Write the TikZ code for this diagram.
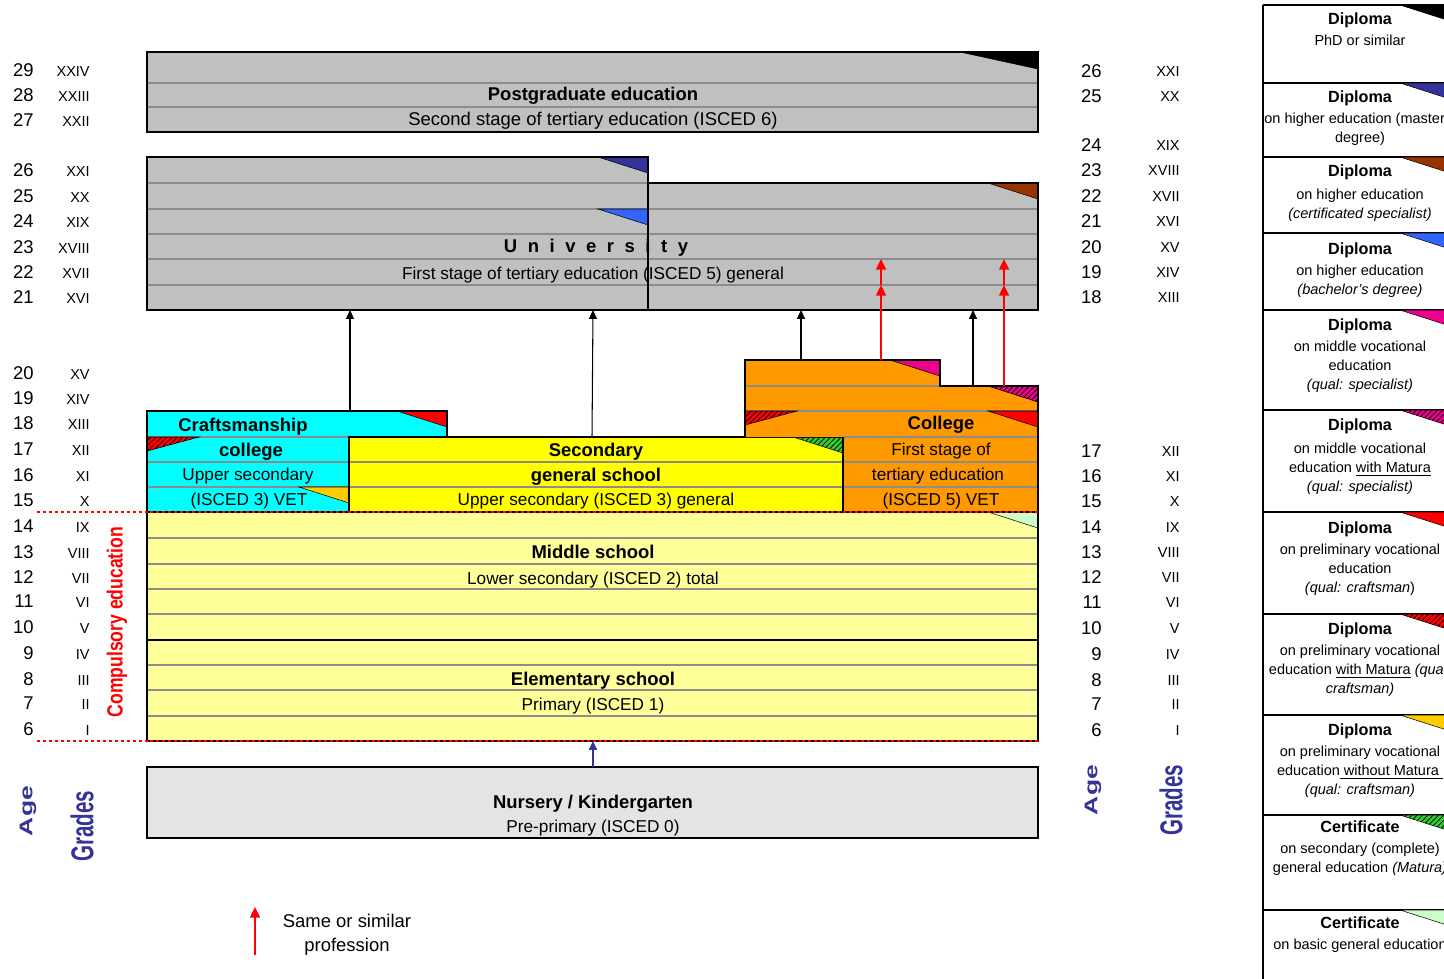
\documentclass[tikz,border=0pt]{standalone}
\usepackage{fontspec}
\setmainfont{Liberation Sans}
\usepackage{graphicx}
\usetikzlibrary{arrows.meta,patterns}

\definecolor{tertgray}{HTML}{C0C0C0}
\definecolor{craftcyan}{HTML}{00FFFF}
\definecolor{secyellow}{HTML}{FFFF00}
\definecolor{collorange}{HTML}{FF9900}
\definecolor{basicyellow}{HTML}{FFFF99}
\definecolor{nurserygray}{HTML}{E4E4E4}
\definecolor{agenavy}{HTML}{333399}
\definecolor{specbrown}{HTML}{993300}
\definecolor{bachblue}{HTML}{3366FF}
\definecolor{craftgold}{HTML}{FFCC00}
\definecolor{maturagreen}{HTML}{33CC33}
\definecolor{basicgreen}{HTML}{CCFFCC}

\tikzset{
  stage/.style={draw=black, line width=1.6pt},
  rowline/.style={draw=black!45, line width=0.7pt},
  hatch/.style={fill=#1, postaction={pattern=north east lines}},
  compline/.style={draw=red, line width=1.6pt, dash pattern=on 1.7pt off 1.7pt},
  txt/.style={font=\fontsize{9.8}{12}\selectfont, inner sep=0pt, text height=7pt, text depth=0pt},
  ttl/.style={font=\fontsize{10.5}{12}\selectfont\bfseries, inner sep=0pt, text height=7.5pt, text depth=0pt},
  agenum/.style={font=\fontsize{10.5}{12}\selectfont, inner sep=0pt, anchor=east, text height=7.5pt, text depth=0pt},
  gradenum/.style={font=\fontsize{8.25}{10}\selectfont, inner sep=0pt, anchor=east, text height=5.9pt, text depth=0pt},
  axislbl/.style={text=agenavy, inner sep=0pt, rotate=90},
  legtxt/.style={font=\fontsize{8.25}{10.8}\selectfont, align=center, anchor=north, inner sep=0pt},
  uparrow/.style={-{Triangle[width=4.5pt,length=5pt]}, line width=0.6pt},
  redarrow/.style={draw=red, -{Triangle[width=5.5pt,length=6pt]}, line width=1.2pt},
}
\newcommand{\dipR}[3]{\path[draw=black, line width=0.3pt, #3] (#1-50,#2) -- (#1,#2) -- (#1,#2+16) -- cycle;}
\newcommand{\dipL}[3]{\path[draw=black, line width=0.3pt, #3] (#1,#2) -- (#1+52,#2) -- (#1,#2+14) -- cycle;}
\newcommand{\legtitle}[1]{{\fontsize{9.2}{11}\selectfont\bfseries #1}}

\begin{document}
\begin{tikzpicture}[x=0.02cm, y=-0.02cm]
\useasboundingbox (0,0) rectangle (1444,978);

% postgraduate
\fill[tertgray] (147,52) rectangle (1038,132);
\foreach \r in {83,107} \draw[rowline] (147,\r) -- (1038,\r);
\path[draw=black, line width=0.3pt, fill=black] (960,52) -- (1038,52) -- (1038,69) -- cycle;
\draw[stage] (147,52) rectangle (1038,132);

% university
\fill[tertgray] (147,157) -- (648,157) -- (648,183) -- (1038,183) -- (1038,310) -- (147,310) -- cycle;
\draw[rowline] (147,183) -- (648,183);
\foreach \r in {209,234,259,285} \draw[rowline] (147,\r) -- (1038,\r);
\dipR{648}{157}{fill=agenavy}
\dipR{648}{209}{fill=bachblue}
\dipR{1038}{183}{fill=specbrown}
\draw[stage] (147,157) -- (648,157) -- (648,183) -- (1038,183) -- (1038,310) -- (147,310) -- cycle;
\draw[stage] (648,183) -- (648,310);

% craftsmanship college
\fill[craftcyan] (147,411) -- (447,411) -- (447,437) -- (349,437) -- (349,512) -- (147,512) -- cycle;
\foreach \r in {437,462,487} \draw[rowline] (147,\r) -- (349,\r);
\dipR{447}{411}{fill=red}
\dipL{147}{437}{hatch=red}
\dipR{349}{487}{fill=craftgold}
\draw[stage] (147,512) -- (147,411) -- (447,411) -- (447,437);

% secondary general school
\fill[secyellow] (349,437) rectangle (843,512);
\foreach \r in {462,487} \draw[rowline] (349,\r) -- (843,\r);
\dipR{843}{437}{hatch=maturagreen}
\draw[stage] (349,437) rectangle (843,512);

% college
\fill[collorange] (745,360) -- (940,360) -- (940,386) -- (1038,386) -- (1038,512) -- (843,512) -- (843,437) -- (745,437) -- cycle;
\draw[rowline] (745,386) -- (940,386);
\draw[rowline] (745,411) -- (1038,411);
\foreach \r in {437,462,487} \draw[rowline] (843,\r) -- (1038,\r);
\dipR{940}{360}{fill=magenta}
\dipR{1038}{386}{hatch=magenta}
\dipL{745}{411}{hatch=red}
\dipR{1038}{411}{fill=red}
\draw[stage] (745,437) -- (745,360) -- (940,360) -- (940,386) -- (1038,386) -- (1038,512);
\draw[stage] (843,437) -- (843,512);

% middle and elementary school
\fill[basicyellow] (147,512) rectangle (1038,741);
\foreach \r in {538,564,589,614,665,690,716} \draw[rowline] (147,\r) -- (1038,\r);
\dipR{1038}{512}{fill=basicgreen}
\draw[stage] (147,512) rectangle (1038,640);
\draw[stage] (147,640) rectangle (1038,741);

% compulsory education
\draw[compline] (37,512) -- (1038,512);
\draw[compline] (37,741) -- (1038,741);

% nursery
\fill[nurserygray] (147,767) rectangle (1038,838);
\draw[stage] (147,767) rectangle (1038,838);

% texts in the stages
\node[ttl] (pgT) at (593,94) {Postgraduate education};
\node[txt, font=\fontsize{10.5}{12}\selectfont] (pgS) at (593,119) {Second stage of tertiary education (ISCED 6)};
\node[ttl] (uniT) at (596,246) {\spaceskip=6pt U n i v e r s i t y};
\node[txt] (uniS) at (593,273) {First stage of tertiary education (ISCED 5) general};
\node[ttl] (crT1) at (243,425) {Craftsmanship};
\node[ttl] (crT2) at (251,450) {college};
\node[txt] (crS1) at (248,474) {Upper secondary};
\node[txt] (crS2) at (249,499) {(ISCED 3) VET};
\node[ttl] (secT1) at (596,450) {Secondary};
\node[ttl] (secT2) at (596,475) {general school};
\node[txt] (secS) at (596,499) {Upper secondary (ISCED 3) general};
\node[ttl] (colT) at (941,423) {College};
\node[txt] (colS1) at (941,449) {First stage of};
\node[txt] (colS2) at (938,474) {tertiary education};
\node[txt] (colS3) at (941,499) {(ISCED 5) VET};
\node[ttl] (midT) at (593,552) {Middle school};
\node[txt] (midS) at (593,578) {Lower secondary (ISCED 2) total};
\node[ttl] (elT) at (593,679) {Elementary school};
\node[txt] (elS) at (593,704) {Primary (ISCED 1)};
\node[ttl] (nurT) at (593,802) {Nursery / Kindergarten};
\node[txt] (nurS) at (593,826) {Pre-primary (ISCED 0)};

\node[rotate=90, text=red, inner sep=0pt, font=\fontsize{12.5}{14}\selectfont\bfseries] (compul) at (117,622) {\scalebox{0.8}[1]{Compulsory education}};

% arrows between stages
\coordinate (crTop) at (350,411);
\coordinate (secTop) at (592,437);
\coordinate (colTop1) at (801,360);
\coordinate (colTop2) at (973,386);
\coordinate (colRed1) at (881,360);
\coordinate (colRed2) at (1004,386);
\coordinate (uniB1) at (350,310);
\coordinate (uniB2) at (593,310);
\coordinate (uniB3) at (801,310);
\coordinate (uniB4) at (973,310);
\coordinate (uniM1) at (881,285);
\coordinate (uniM2) at (1004,285);
\coordinate (uniR1) at (881,259);
\coordinate (uniR2) at (1004,259);
\coordinate (nurTop) at (593,767);
\coordinate (elBot) at (593,741);
\draw[uparrow] (crTop) -- (uniB1);
\draw[uparrow] (secTop) -- (uniB2);
\draw[uparrow] (colTop1) -- (uniB3);
\draw[uparrow] (colTop2) -- (uniB4);
\draw[redarrow] (colRed1) -- (uniM1);
\draw[redarrow] (uniM1) -- (uniR1);
\draw[redarrow] (colRed2) -- (uniM2);
\draw[redarrow] (uniM2) -- (uniR2);
\draw[uparrow, draw=agenavy, line width=1pt] (nurTop) -- (elBot);

% ages and grades
\foreach \a/\g/\y in {29/XXIV/70, 28/XXIII/95, 27/XXII/120, 26/XXI/170, 25/XX/196, 24/XIX/221,
    23/XVIII/247, 22/XVII/272, 21/XVI/297, 20/XV/373, 19/XIV/398, 18/XIII/423, 17/XII/449,
    16/XI/475, 15/X/500, 14/IX/526, 13/VIII/552, 12/VII/577, 11/VI/601, 10/V/627, 9/IV/653,
    8/III/679, 7/II/703, 6/I/729} {
  \node[agenum] (ageL\a) at (34,\y) {\a};
  \node[gradenum] (grL\a) at (90,\y+1) {\g};
}
\foreach \a/\g/\y in {26/XXI/71, 25/XX/96, 24/XIX/145, 23/XVIII/170, 22/XVII/196, 21/XVI/221,
    20/XV/247, 19/XIV/272, 18/XIII/297, 17/XII/451, 16/XI/476, 15/X/501, 14/IX/527,
    13/VIII/552, 12/VII/577, 11/VI/602, 10/V/628, 9/IV/654, 8/III/680, 7/II/704, 6/I/730} {
  \node[agenum] (ageR\a) at (1102,\y) {\a};
  \node[gradenum] (grR\a) at (1180,\y) {\g};
}
\node[axislbl, font=\fontsize{10.4}{12}\selectfont\bfseries] (ageL) at (28,811) {\scalebox{1.45}[1]{Age}};
\node[axislbl, font=\fontsize{18}{20}\selectfont\bfseries] (gradesL) at (82,826) {\scalebox{0.65}[1]{Grades}};
\node[axislbl, font=\fontsize{10.4}{12}\selectfont\bfseries] (ageR) at (1093,790) {\scalebox{1.45}[1]{Age}};
\node[axislbl, font=\fontsize{18}{20}\selectfont\bfseries] (gradesR) at (1171,800) {\scalebox{0.65}[1]{Grades}};

% legend: same profession
\coordinate (profLow) at (255,955);
\coordinate (profHigh) at (255,907);
\draw[redarrow] (profLow) -- (profHigh);
\node[txt, font=\fontsize{10.5}{12}\selectfont] (prof1) at (347,921) {Same or similar};
\node[txt, font=\fontsize{10.5}{12}\selectfont] (prof2) at (347,945) {profession};

% legend: diplomas
\draw[stage] (1263,5) -- (1263,990);
\foreach \r in {5,83,157,233,310,410,512,614,715,815,910} \draw[stage] (1263,\r) -- (1450,\r);
\dipR{1450}{5}{fill=black}
\dipR{1450}{83}{fill=agenavy}
\dipR{1450}{157}{fill=specbrown}
\dipR{1450}{233}{fill=bachblue}
\dipR{1450}{310}{fill=magenta}
\dipR{1450}{410}{hatch=magenta}
\dipR{1450}{512}{fill=red}
\dipR{1450}{614}{hatch=red}
\dipR{1450}{715}{fill=craftgold}
\dipR{1450}{815}{hatch=maturagreen}
\dipR{1450}{910}{fill=basicgreen}

\node[legtxt] (leg1) at (1360,12) {\legtitle{Diploma}\\[1.5pt] PhD or similar};
\node[legtxt] (leg2) at (1360,90) {\legtitle{Diploma}\\[1.5pt] on higher education (master's\\ degree)};
\node[legtxt] (leg3) at (1360,164) {\legtitle{Diploma}\\[2.5pt] on higher education\\ \textit{(certificated specialist)}};
\node[legtxt] (leg4) at (1360,242) {\legtitle{Diploma}\\[1.5pt] on higher education\\ \textit{(bachelor's degree)}};
\node[legtxt] (leg5) at (1360,318) {\legtitle{Diploma}\\[1.5pt] on middle vocational\\ education\\ \textit{(qual: specialist)}};
\node[legtxt] (leg6) at (1360,418) {\legtitle{Diploma}\\[2.5pt] on middle vocational\\ education \underline{with Matura}\\ \textit{(qual: specialist)}};
\node[legtxt] (leg7) at (1360,521) {\legtitle{Diploma}\\[1.5pt] on preliminary vocational\\ education\\ \textit{(qual: craftsman})};
\node[legtxt] (leg8) at (1360,622) {\legtitle{Diploma}\\[1.5pt] on preliminary vocational\\ education \underline{with Matura} \textit{(qual:}\\ \textit{craftsman)}};
\node[legtxt] (leg9) at (1360,723) {\legtitle{Diploma}\\[1.5pt] on preliminary vocational\\ education\underline{\ without Matura\ }\\ \textit{(qual: craftsman)}};
\node[legtxt] (leg10) at (1360,820) {\legtitle{Certificate}\\[1.5pt] on secondary (complete)\\ general education \textit{(Matura)}};
\node[legtxt] (leg11) at (1360,916) {\legtitle{Certificate}\\[1.5pt] on basic general education};
\end{tikzpicture}
\end{document}
